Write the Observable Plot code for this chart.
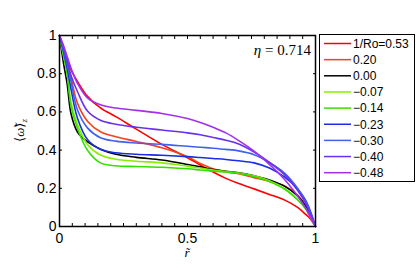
<!DOCTYPE html>
<html><head><meta charset="utf-8">
<script src="https://cdn.jsdelivr.net/npm/d3@7"></script>
<script src="https://cdn.jsdelivr.net/npm/@observablehq/plot@0.6"></script>
<style>body{margin:0;background:#fff}</style>
</head><body><div id="chart"></div>
<script>
// radial coordinate (r tilde)
const rGrid = [0, 0.015, 0.03, 0.045, 0.07, 0.11, 0.16, 0.22, 0.3, 0.4, 0.5, 0.55, 0.6, 0.65, 0.7, 0.76, 0.82, 0.88, 0.93, 0.96, 0.98, 1];
// <omega>_z profiles for each 1/Ro
const roP053 = [1, 0.94, 0.875, 0.82, 0.76, 0.68, 0.621, 0.575, 0.51, 0.43, 0.36, 0.322, 0.285, 0.252, 0.225, 0.197, 0.168, 0.138, 0.1, 0.065, 0.04, 0];
const roP020 = [1, 0.93, 0.86, 0.78, 0.646, 0.55, 0.496, 0.47, 0.445, 0.412, 0.365, 0.33, 0.302, 0.287, 0.276, 0.256, 0.236, 0.212, 0.165, 0.11, 0.06, 0];
const roP000 = [1, 0.86, 0.745, 0.59, 0.495, 0.443, 0.405, 0.378, 0.362, 0.348, 0.325, 0.312, 0.298, 0.289, 0.281, 0.265, 0.243, 0.21, 0.16, 0.11, 0.06, 0];
const roM007 = [1, 0.9, 0.8, 0.65, 0.535, 0.428, 0.374, 0.352, 0.342, 0.333, 0.316, 0.306, 0.296, 0.288, 0.28, 0.265, 0.24, 0.198, 0.14, 0.095, 0.05, 0];
const roM014 = [1, 0.9, 0.8, 0.63, 0.515, 0.398, 0.333, 0.318, 0.314, 0.31, 0.302, 0.296, 0.29, 0.285, 0.279, 0.262, 0.235, 0.195, 0.14, 0.095, 0.05, 0];
const roM023 = [1, 0.92, 0.83, 0.72, 0.568, 0.454, 0.404, 0.386, 0.378, 0.373, 0.366, 0.361, 0.356, 0.351, 0.344, 0.333, 0.306, 0.258, 0.196, 0.14, 0.08, 0];
const roM030 = [1, 0.93, 0.85, 0.76, 0.611, 0.515, 0.465, 0.447, 0.437, 0.43, 0.42, 0.415, 0.41, 0.404, 0.396, 0.376, 0.335, 0.278, 0.2, 0.135, 0.075, 0];
const roM040 = [1, 0.94, 0.865, 0.79, 0.707, 0.603, 0.556, 0.535, 0.52, 0.505, 0.49, 0.48, 0.466, 0.452, 0.432, 0.39, 0.335, 0.27, 0.19, 0.125, 0.065, 0];
const roM048 = [1, 0.95, 0.89, 0.83, 0.75, 0.672, 0.637, 0.62, 0.608, 0.592, 0.565, 0.545, 0.52, 0.49, 0.45, 0.395, 0.325, 0.245, 0.16, 0.1, 0.05, 0];

const seriesLabels = ["1/Ro=0.53", "0.20", "0.00", "\u22120.07", "\u22120.14", "\u22120.23", "\u22120.30", "\u22120.40", "\u22120.48"];
const seriesValues = [roP053, roP020, roP000, roM007, roM014, roM023, roM030, roM040, roM048];
const seriesColors = ["#ff0000", "#f8401a", "#000000", "#88ee00", "#33e000", "#1a2ee6", "#4060f0", "#6a30f0", "#a030f0"];

const xLabelTicks = [0, 0.5, 1];
const xMinorTicks = d3.range(0, 21).map(i => i / 20);
const yTicks = [0, 0.2, 0.4, 0.6, 0.8, 1];
const etaText = "0.714";

const data = seriesLabels.flatMap((s, i) => rGrid.map((r, j) => ({s, r, v: seriesValues[i][j]})));
const fmt = d => String(d);

const chart = Plot.plot({
  width: 416, height: 274,
  marginLeft: 59, marginRight: 101, marginTop: 35, marginBottom: 48,
  x: {domain: [0, 1]},
  y: {domain: [0, 1]},
  color: {domain: seriesLabels, range: seriesColors},
  style: {fontFamily: "Liberation Sans, Arial, sans-serif", fontSize: "14px", background: "white", overflow: "visible"},
  marks: [
    Plot.line(data, {x: "r", y: "v", z: "s", stroke: "s", strokeWidth: 1.6, curve: "catmull-rom"}),
    Plot.axisX({anchor: "bottom", ticks: xMinorTicks, tickSize: -3, tickFormat: () => "", label: null}),
    Plot.axisX({anchor: "top", ticks: xMinorTicks, tickSize: -3, tickFormat: () => "", label: null}),
    Plot.axisX({anchor: "bottom", ticks: xLabelTicks, tickSize: 0, tickPadding: 7, tickFormat: fmt, label: null, fontSize: 14, fill: "black"}),
    Plot.axisY({anchor: "left", ticks: yTicks, tickSize: -3, tickFormat: () => "", label: null}),
    Plot.axisY({anchor: "right", ticks: yTicks, tickSize: -3, tickFormat: () => "", label: null}),
    Plot.axisY({anchor: "left", ticks: yTicks, tickSize: 0, tickPadding: 3, tickFormat: fmt, label: null, fontSize: 14, fill: "black"}),
    Plot.frame({stroke: "black", strokeWidth: 1.5})
  ]
});
document.getElementById("chart").appendChild(chart);

const svg = d3.select(chart);
const xs = chart.scale("x"), ys = chart.scale("y");
const serif = "Liberation Serif, 'DejaVu Serif', serif";

// eta annotation
const eta = svg.append("text")
  .attr("x", xs.apply(1) - 4).attr("y", ys.apply(1) + 20)
  .attr("text-anchor", "end").attr("font-family", serif).attr("font-size", 15).attr("fill", "black");
eta.append("tspan").attr("font-style", "italic").text("\u03b7");
eta.append("tspan").text(" = " + etaText);

// x label
svg.append("text")
  .attr("x", xs.apply(0.5)).attr("y", 257)
  .attr("text-anchor", "middle").attr("font-family", serif).attr("font-style", "italic").attr("font-size", 13)
  .text("r\u0303");

// y label
const yl = svg.append("text")
  .attr("transform", `translate(24,${ys.apply(0.5)}) rotate(-90)`)
  .attr("text-anchor", "middle").attr("font-family", serif).attr("font-size", 13).attr("fill", "black");
yl.append("tspan").text("\u27e8");
yl.append("tspan").attr("font-style", "italic").text("\u03c9\u0303");
yl.append("tspan").text("\u27e9");
yl.append("tspan").attr("font-style", "italic").attr("font-size", 9).attr("dy", 3).text("z");

// legend
const lx = 319, ly = 34, lw = 96, lh = 147, rowH = 16.15;
const lg = svg.append("g");
lg.append("rect").attr("x", lx + 0.5).attr("y", ly + 0.5).attr("width", lw - 1).attr("height", lh)
  .attr("fill", "white").attr("stroke", "black").attr("stroke-width", 1);
seriesLabels.forEach((s, i) => {
  const y = ly + 9.5 + i * rowH;
  lg.append("line").attr("x1", lx + 5).attr("x2", lx + 32).attr("y1", y).attr("y2", y)
    .attr("stroke", seriesColors[i]).attr("stroke-width", 1.5);
  lg.append("text").attr("x", lx + 34).attr("y", y).attr("dy", "0.36em").attr("text-anchor", "start")
    .attr("font-family", "Liberation Sans, Arial, sans-serif").attr("font-size", 12).attr("fill", "black").text(s);
});
</script>
</body></html>
